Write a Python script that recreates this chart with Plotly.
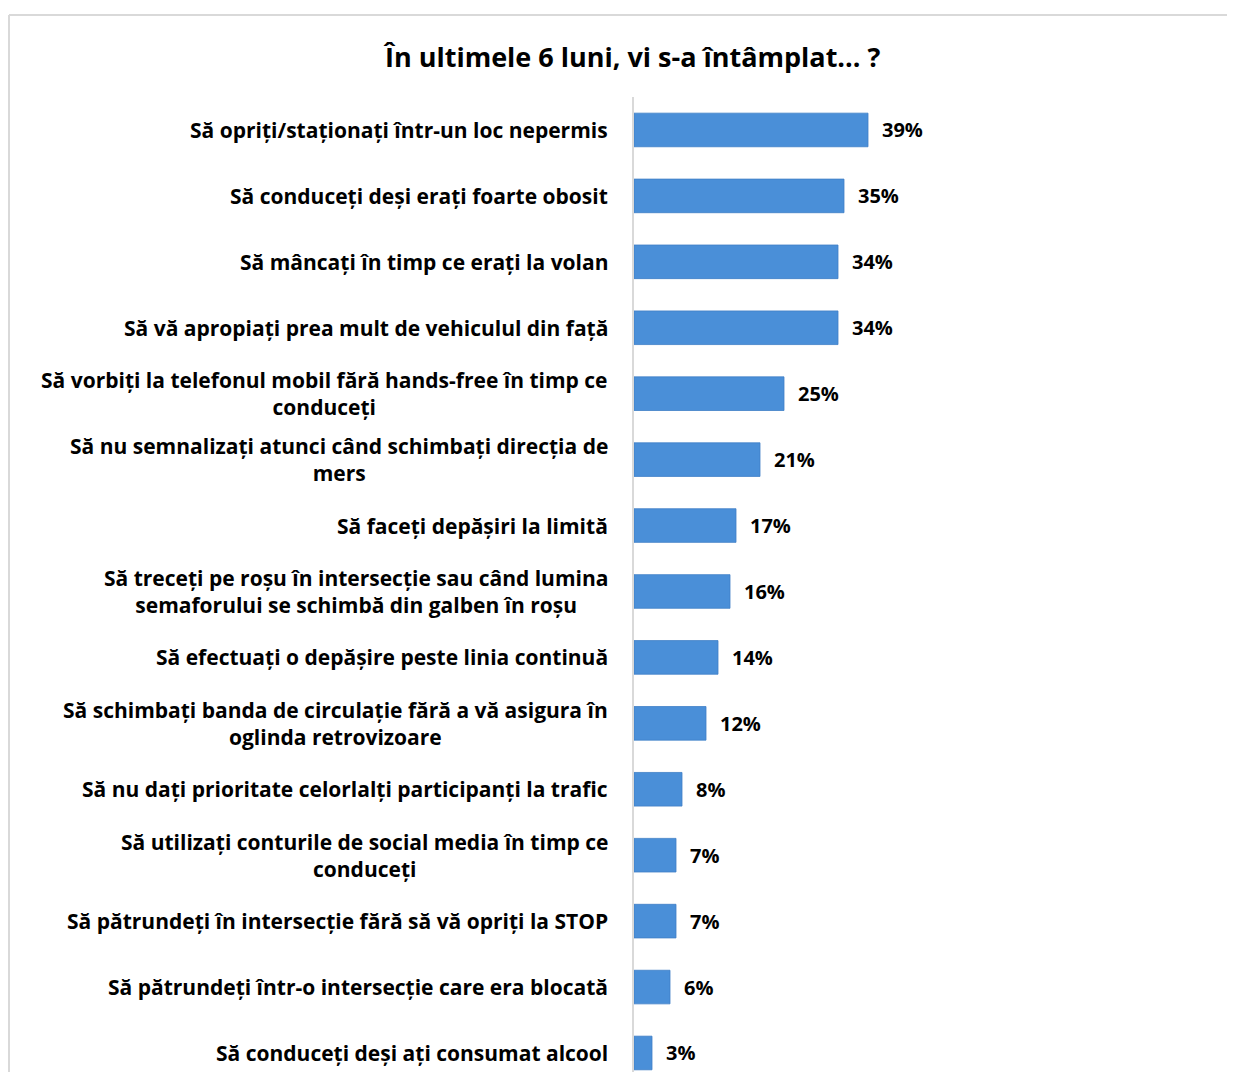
import plotly.graph_objects as go

categories = [
    "Să opriți/staționați într-un loc nepermis",
    "Să conduceți deși erați foarte obosit",
    "Să mâncați în timp ce erați la volan",
    "Să vă apropiați prea mult de vehiculul din față",
    "Să vorbiți la telefonul mobil fără hands-free în timp ce<br>conduceți",
    "Să nu semnalizați atunci când schimbați direcția de<br>mers",
    "Să faceți depășiri la limită",
    "Să treceți pe roșu în intersecție sau când lumina<br>semaforului se schimbă din galben în roșu",
    "Să efectuați o depășire peste linia continuă",
    "Să schimbați banda de circulație fără a vă asigura în<br>oglinda retrovizoare",
    "Să nu dați prioritate celorlalți participanți la trafic",
    "Să utilizați conturile de social media în timp ce<br>conduceți",
    "Să pătrundeți în intersecție fără să vă opriți la STOP",
    "Să pătrundeți într-o intersecție care era blocată",
    "Să conduceți deși ați consumat alcool",
]
values = [39, 35, 34, 34, 25, 21, 17, 16, 14, 12, 8, 7, 7, 6, 3]
title_text = "În ultimele 6 luni, vi s-a întâmplat... ?"

OFF = 8  # page offset of the figure (body margin)
W, H = 1235, 1072
L, R, T, B = 634 - OFF, 10, 97 - OFF, 0
pw, ph = W - L - R, H - T - B
px_per_unit = 6.0
xmax = pw / px_per_unit
cat_px = 65.93
ybottom = -0.5 + ph / cat_px

def xp(page_px):
    return (page_px - OFF - L) / pw

def yp(page_py):
    return (H - B - (page_py - OFF)) / ph

font_family = "'Open Sans', Lato, sans-serif"

fig = go.Figure(go.Bar(
    x=values,
    y=list(range(len(categories))),
    orientation="h",
    width=0.51,
    marker=dict(color="#4a8fd8", line=dict(color="#3f7fc6", width=0.8)),
    hoverinfo="skip",
))

annotations = []
for i, (c, v) in enumerate(zip(categories, values)):
    annotations.append(dict(
        x=0, y=i, xref="x", yref="y", text=c, showarrow=False,
        xanchor="right", yanchor="middle", align="center", xshift=-24,
        font=dict(family=font_family, size=21, color="#000000", weight="bold"),
    ))
    annotations.append(dict(
        x=v, y=i, xref="x", yref="y", text=f"{v}%", showarrow=False,
        xanchor="left", yanchor="middle", xshift=12,
        font=dict(family=font_family, size=20, color="#000000", weight="bold"),
    ))

annotations.append(dict(
    x=xp(631), y=yp(57), xref="paper", yref="paper", text=title_text,
    showarrow=False, xanchor="center", yanchor="middle",
    font=dict(family=font_family, size=27, color="#000000", weight="bold"),
))

shapes = [
    dict(type="line", xref="paper", yref="paper", x0=xp(9), x1=xp(1250), y0=yp(15), y1=yp(15),
         line=dict(color="#d9d9d9", width=2)),
    dict(type="line", xref="paper", yref="paper", x0=xp(9), x1=xp(9), y0=yp(15), y1=yp(1090),
         line=dict(color="#d9d9d9", width=2)),
]

fig.update_layout(
    width=W, height=H,
    margin=dict(l=L, r=R, t=T, b=B),
    paper_bgcolor="white", plot_bgcolor="white",
    showlegend=False,
    annotations=annotations,
    shapes=shapes,
    xaxis=dict(range=[0, xmax], showgrid=False, zeroline=False, showticklabels=False,
               showline=False, fixedrange=True),
    yaxis=dict(range=[ybottom, -0.5], showgrid=False, zeroline=False, showticklabels=False,
               showline=True, linecolor="#d9d9d9", linewidth=2, fixedrange=True),
)

fig.write_html("out.html")
